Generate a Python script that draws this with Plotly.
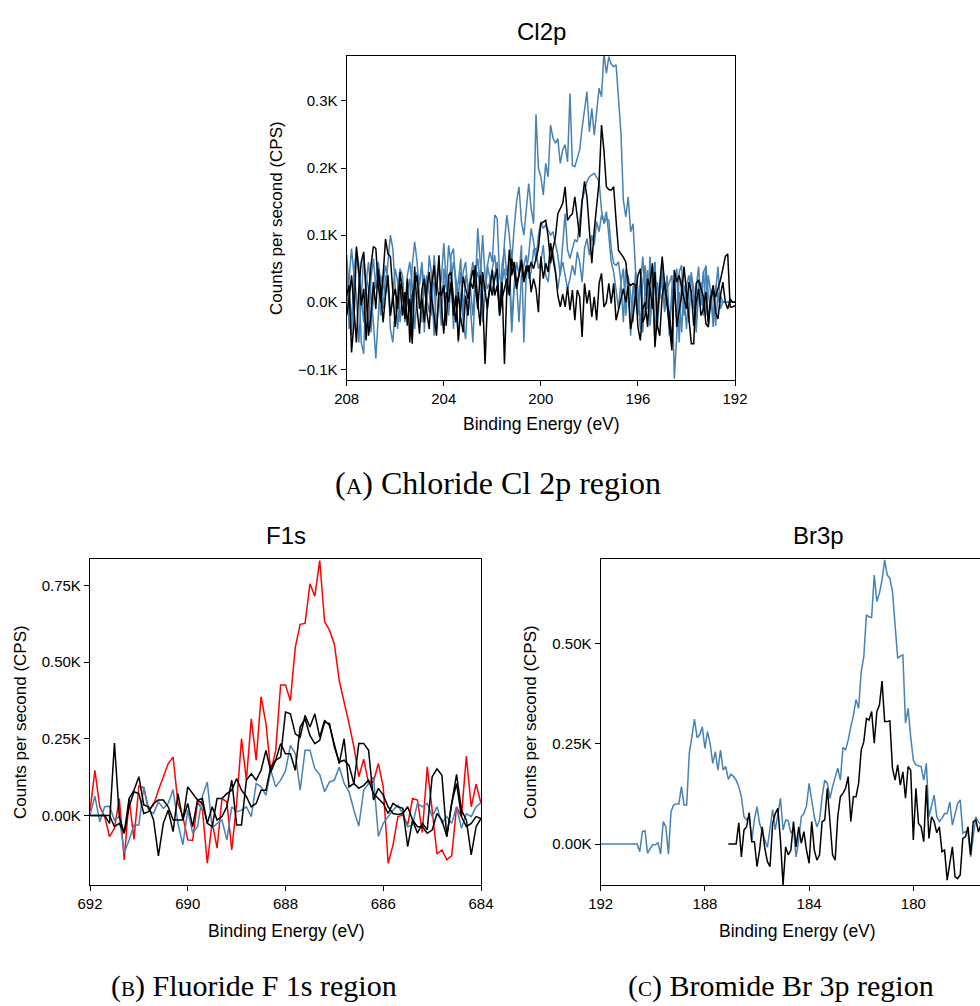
import numpy as np
import plotly.graph_objects as go

# ---------------- data ----------------
# Cl 2p scan, 208.0 -> 192.0 eV in 0.1 eV steps (counts per second)
cl_black_1 = [
    10, 25, -75, -30, 83, 45, -5, 20, -57, 10,
    55, 83, 80, 25, 0, 40, 94, 72, 68, 15,
    -37, 5, 28, -20, 15, -35, 5, -62, 53, -10,
    -47, 20, 35, -15, -40, 25, 55, 10, 70, -5,
    -47, 15, 0, 30, -20, 10, -57, -10, 38, 20,
    5, 30, 48, 25, -10, 40, 10, -92, 0, 20,
    48, 10, 25, -15, 30, -92, 20, 78, 40, 60,
    30, 40, 63, 35, 55, 45, 60, 50, 65, 80,
    117, 120, 122, 98, 58, 80, 97, 132, 140, 147,
    172, 122, 128, 132, 157, 127, 97, 150, 180, 157,
    110, 58, 107, 150, 180, 264, 226, 172, 168, 167,
    172, 122, 77, 72, 67, 60, 28, 25, 28, 25,
    -37, -57, -10, 0, -37, 30, 58, -67, -22, 20,
    68, 28, -10, -37, -72, 33, -37, -12, 10, 53,
    18, -20, -62, -62, 28, 33, 20, 8, -32, -37,
    5, 18, 8, 20, 33, 50, 68, 72, -7, -7,
    -5,
]
cl_black_2 = [
    -20, 5, 40, -10, -60, 20, 60, 75, 10, -50,
    -20, 30, -10, 50, 15, -30, 10, 40, -20, 5,
    20, -10, 45, 15, -25, 35, -60, 10, 25, 40,
    -10, 5, -30, 20, 45, 5, -20, -50, 15, 10,
    25, -35, 40, 45, 5, -30, 15, -25, -45, 10,
    -20, 30, 20, 55, 0, -35, 45, 15, -10, 25,
    10, 35, 50, -20, 5, 20, 35, 10, 65, 45,
    20, 40, 60, 30, 45, 55, 15, 35, 20, -15,
    68, 35, 58, 45, 88, 65, 45, 10, -7, 12,
    -7, 23, -12, 18, -27, 18, 8, -52, 28, -2,
    18, -22, 8, -27, 28, 43, -7, 0, 28, -2,
    28, -27, -10, 5, 20, 0, 25, -40, -20, 10,
    40, 50, -30, -20, 35, 20, -10, 45, -35, -50,
    10, 30, 0, -20, -62, 48, 30, 40, 20, 5,
    -10, 30, 15, -35, 0, 20, -20, -10, 15, -30,
    5, 25, -15, -25, 10, 30, 0, -10, 5, 0,
    0,
]
cl_blue_1 = [
    70, 20, -50, 50, 75, 40, -60, -77, 30, 60,
    10, -30, -84, -20, 40, 25, 15, 60, 100, 80,
    20, -40, 15, 30, -20, 5, -15, 55, 90, 60,
    10, -30, 40, 5, -15, 20, 30, -40, 15, 35,
    88, 30, -10, 70, 80, 20, -60, 10, 45, 60,
    15, 35, 60, 20, 110, 60, 30, 10, 55, 75,
    60, 130, 125, 40, 20, 90, 130, 100, 60, 110,
    150, 172, 120, 100, 140, 177, 140, 117, 280, 200,
    187, 160, 207, 187, 264, 245, 237, 244, 207, 227,
    235, 209, 311, 204, 202, 215, 227, 260, 290, 314,
    254, 289, 249, 280, 319, 306, 372, 341, 366, 355,
    351, 354, 300, 252, 152, 127, 157, 105, 117, 48,
    20, -40, 30, 55, -10, 68, 10, 60, -20, 30,
    62, 10, 20, 30, 40, -114, -50, 45, 55, -20,
    25, 40, 5, -10, 20, 53, -5, 45, 53, -37,
    20, -37, 15, 53, -10, 0, 0, 0, 0, 0,
    0,
]
cl_blue_2 = [
    60, -40, -20, 20, 80, 55, 10, -30, 40, 20,
    -45, 10, 35, 60, 30, -10, 40, 20, -20, 15,
    50, 30, -30, 20, -10, 40, 60, 25, -40, 10,
    30, 55, 20, -5, 70, 40, -50, 25, 60, 10,
    15, 40, -20, 30, 60, 35, 10, 45, -30, -55,
    15, 20, -20, 40, 65, 30, 100, 40, 20, 30,
    50, 70, 30, -10, 55, 80, 40, 60, -30, 25,
    60, 40, 85, -60, 45, 70, 110, 90, 60, 100,
    120, 110, 115, 108, 100, 105, 85, 70, 40, 90,
    132, 78, 65, 80, 93, 90, 120, 152, 165, 180,
    187, 190, 192, 186, 180, 137, 117, 125, 122, 80,
    58, 55, 60, 30, 50, -20, 40, 10, -30, 45,
    -10, 20, 68, 10, 48, -20, 25, 60, -40, 15,
    30, -10, 40, -30, 5, 20, 50, -60, 35, 10,
    -40, 20, 45, 0, -30, 30, 10, 45, -20, 40,
    15, -30, 25, 0, 10, 0, 0, 0, 0, 0,
    0,
]
cl_blue_3 = [
    -10, 30, 80, 40, 10, -60, 5, 70, 25, -40,
    35, 65, 20, 45, -20, 30, 55, 35, -40, -60,
    -10, 25, 50, 40, -30, 15, 35, -55, 20, 45,
    25, 60, -45, 40, 15, -20, 70, 30, 10, -35,
    50, 20, 85, 55, -40, 15, 30, 65, -20, 40,
    25, -10, -60, 30, 45, 20, -30, 10, 55, 35,
    15, 40, 60, -20, 30, 50, 10, 45, -45, 20,
    30, -30, 40, 55, 70, 35, 45, 78, 80, 50,
    60, 85, 40, 30, 65, 75, 50, 20, 45, 60,
    40, 20, 35, 55, 40, 75, 60, 30, 80, 95,
    70, 100, 85, 120, 105, 130, 120, 135, 100, 60,
    45, 20, -10, 30, -30, 50, 10, -50, 25, 0,
    -20, 35, -45, 25, 40, -35, 15, -60, 30, 5,
    45, -15, 10, -50, 20, 35, -25, 15, -45, 25,
    10, -30, 40, 20, -45, 15, 30, -20, 55, 10,
    -10, 25, -35, 15, 0, 0, 0, 0, 0, 0,
    0,
]

# F 1s scan, 692.0 -> 684.0 eV in 0.1 eV steps
f_red = [
    15, 147, 28, -4, -69, -42, 55, -145, 55, -78,
    96, 90, 17, 34, 82, 126, 169, 190, 39, -4,
    -80, -82, 44, 17, -156, -21, -107, 55, 44, -113,
    39, 250, 115, 315, 180, 387, 299, 142, 212, 425,
    425, 374, 548, 623, 626, 755, 715, 831, 632, 604,
    558, 439, 374, 299, 223, 126, 183, 104, 111, 169,
    93, -156, -96, -4, 1, -31, 55, 50, -56, 158,
    17, -126, -113, -145, -132, 28, -4, 193, 28, 102,
    39,
]
f_black_1 = [
    0, 0, 0, 0, -26, 236, -4, -58, 55, 82,
    126, 34, 28, -15, -132, -26, 17, -53, 71, -15,
    93, 71, 50, 55, -26, 28, -15, -4, 28, 115,
    -31, -31, 115, 136, 115, 147, 212, 142, 180, 190,
    337, 331, 266, 255, 326, 288, 331, 255, 310, 293,
    234, 169, 250, 93, 104, 234, 234, 212, 50, 88,
    66, 28, 6, 3, 6, 28, -15, -58, -26, -47,
    126, 152, 131, -69, 39, 134, 17, -15, -129, -37,
    -10,
]
f_black_2 = [
    0, 0, 0, 0, 0, -37, -26, -58, 28, 77,
    71, 6, 12, 39, 50, 50, 28, -15, -15, -15,
    39, -37, 50, 39, -26, -37, 55, 55, 71, 82,
    120, 82, 61, 28, 39, 82, 82, 158, 180, 234,
    201, 201, 147, 288, 315, 261, 234, 245, 304, 299,
    223, 174, 180, 163, 104, 88, 98, 115, 71, 55,
    39, 6, 39, 28, 23, -102, -15, -37, -37, -58,
    -48, 6, -15, -69, 39, 104, -4, -37, -26, -4,
    -10,
]
f_blue = [
    0, 63, -21, 28, 30, -15, -4, -123, -80, -31,
    -31, 93, 17, 6, 44, 23, 39, 84, -26, -96,
    17, -58, -37, 63, 109, -42, -26, -15, -80, 28,
    12, 17, 28, -4, 104, 93, 66, 147, 93, 115,
    145, 228, 201, 82, 212, 212, 152, 133, 77, 109,
    115, 158, 104, 77, 17, -35, 82, 104, 125, -69,
    -26, -4, 17, 33, 6, -37, -31, 39, 28, 39,
    -4, 28, -26, -4, -26, 28, -42, 6, -4, 28,
    42,
]

# Br 3p scans: blue 192.0 -> 177.4 eV, black 187.1 -> 177.4 eV, 0.1 eV steps
br_blue = [
    0, 0, 0, 0, 0, 0, 0, 0, 0, 0,
    0, 0, 0, 0, 0, -19, 31, 33, -23, -11,
    -2, -2, 3, -25, 56, 43, -25, 81, 97, 100,
    100, 143, 97, 97, 226, 267, 311, 265, 272, 292,
    238, 280, 251, 201, 230, 184, 234, 184, 193, 161,
    174, 168, 159, 143, 118, 68, 60, 70, 8, 61,
    93, 51, 27, 10, -8, 35, 86, 35, 80, 114,
    35, 60, 58, 27, 37, -32, 10, 68, 76, 95,
    151, 114, 68, 43, 60, 118, 159, 151, 114, 143,
    168, 189, 159, 241, 234, 259, 292, 320, 360, 338,
    429, 467, 571, 566, 564, 670, 604, 625, 658, 708,
    670, 662, 629, 550, 463, 468, 471, 301, 338, 267,
    209, 197, 194, 193, 159, 201, 68, 93, 122, 68,
    56, 64, 76, 76, 105, 47, 76, 101, 110, 27,
    31, 27, -32, 20, 68, 55, 50,
]
br_black = [
    0, 0, 0, 0, 53, -32, 35, 43, 78, 6,
    6, -56, -15, 43, -11, -44, -56, 51, 76, 89,
    10, -102, -7, -27, -15, 56, -7, 43, 2, 31,
    -15, -48, 56, -15, -40, -27, 56, 60, 139, 60,
    -27, -40, 68, 118, 126, 139, 168, 56, 118, 118,
    151, 234, 255, 313, 309, 330, 251, 330, 346, 406,
    305, 305, 307, 189, 159, 197, 147, 180, 114, 193,
    184, 10, 139, 51, 43, 6, 147, 14, 68, 56,
    28, 43, -19, -15, -90, -48, -7, -81, -86, -77,
    14, 18, 43, -27, 56, 60, 30, 50,
]

cl_ticks = [208, 204, 200, 196, 192]
cl_yticks = [-100, 0, 100, 200, 300]
cl_ytext = ["\u22120.1K", "0.0K", "0.1K", "0.2K", "0.3K"]
f_ticks = [692, 690, 688, 686, 684]
f_yticks = [0, 250, 500, 750]
f_ytext = ["0.00K", "0.25K", "0.50K", "0.75K"]
br_ticks = [192, 188, 184, 180, 176]
br_yticks = [0, 250, 500]
br_ytext = ["0.00K", "0.25K", "0.50K"]


def energy(start, n):
    return np.round(start - 0.1 * np.arange(n), 1)


BLUE = "#4682b4"
RED = "#ff0000"
BLACK = "#000000"
SANS = "Liberation Sans, Arial, Helvetica, sans-serif"
SERIF = "Liberation Serif, Times New Roman, serif"
W, H = 980, 1006

fig = go.Figure()


def add(xs, ys, color, ax):
    fig.add_trace(go.Scatter(
        x=xs, y=ys, mode="lines", line=dict(color=color, width=1.5),
        xaxis="x" + ax, yaxis="y" + ax, showlegend=False, hoverinfo="skip"))


cl_e = energy(208.0, len(cl_black_1))
for s, c in [(cl_blue_3, BLUE), (cl_blue_2, BLUE), (cl_blue_1, BLUE),
             (cl_black_2, BLACK), (cl_black_1, BLACK)]:
    add(cl_e, s, c, "")

f_e = energy(692.0, len(f_red))
for s, c in [(f_red, RED), (f_blue, BLUE), (f_black_2, BLACK), (f_black_1, BLACK)]:
    add(f_e, s, c, "2")

add(energy(192.0, len(br_blue)), br_blue, BLUE, "3")
add(energy(187.1, len(br_black)), br_black, BLACK, "3")


def px_x(p):
    return p / W


def px_y(p):
    return 1 - p / H


axis_common = dict(
    showgrid=False, zeroline=False, showline=True, linecolor=BLACK, linewidth=1.3,
    ticks="outside", ticklen=5, tickwidth=1.3, tickcolor=BLACK,
    tickfont=dict(family=SANS, size=15, color=BLACK),
)

fig.update_layout(
    width=W, height=H,
    margin=dict(l=0, r=0, t=0, b=0, autoexpand=False),
    paper_bgcolor="white", plot_bgcolor="white",
    xaxis=dict(axis_common, domain=[px_x(346.7), px_x(735)], range=[208, 192],
               tickvals=cl_ticks, mirror=True, anchor="y"),
    yaxis=dict(axis_common, domain=[px_y(380), px_y(56)], range=[-116, 367],
               tickvals=cl_yticks, ticktext=cl_ytext, mirror=True, anchor="x"),
    xaxis2=dict(axis_common, domain=[px_x(90), px_x(481)], range=[692, 684],
                tickvals=f_ticks, mirror=True, anchor="y2"),
    yaxis2=dict(axis_common, domain=[px_y(885), px_y(559)], range=[-227, 836],
                tickvals=f_yticks, ticktext=f_ytext, mirror=True, anchor="x2"),
    xaxis3=dict(axis_common, domain=[px_x(600.7), 1.0], range=[192, 177.44],
                tickvals=br_ticks, mirror=True, anchor="y3"),
    yaxis3=dict(axis_common, domain=[px_y(885), px_y(559)], range=[-102, 710],
                tickvals=br_yticks, ticktext=br_ytext, mirror=False, anchor="x3"),
)


def label(text, x, y, size, family=SANS, angle=0):
    fig.add_annotation(text=text, x=px_x(x), y=px_y(y), xref="paper", yref="paper",
                       showarrow=False, xanchor="center", yanchor="middle",
                       textangle=angle, font=dict(family=family, size=size, color=BLACK))


# panel titles
label("Cl2p", 541, 32, 24)
label("F1s", 286, 535, 24)
label("Br3p", 818, 535, 24)

# axis titles
label("Binding Energy (eV)", 541, 424, 17.5)
label("Binding Energy (eV)", 286, 931, 17.5)
label("Binding Energy (eV)", 797, 931, 17.5)
label("Counts per second (CPS)", 276, 218, 17, angle=-90)
label("Counts per second (CPS)", 20, 722, 17, angle=-90)
label("Counts per second (CPS)", 530, 722, 17, angle=-90)

# sub-figure captions
label("(<span style='font-size:23px'>A</span>) Chloride Cl 2p region",
      498, 483, 32, family=SERIF)
label("(<span style='font-size:21px'>B</span>) Fluoride F 1s region",
      254, 986, 30, family=SERIF)
label("(<span style='font-size:21px'>C</span>) Bromide Br 3p region",
      781, 986, 30, family=SERIF)

fig.write_html("out.html")
